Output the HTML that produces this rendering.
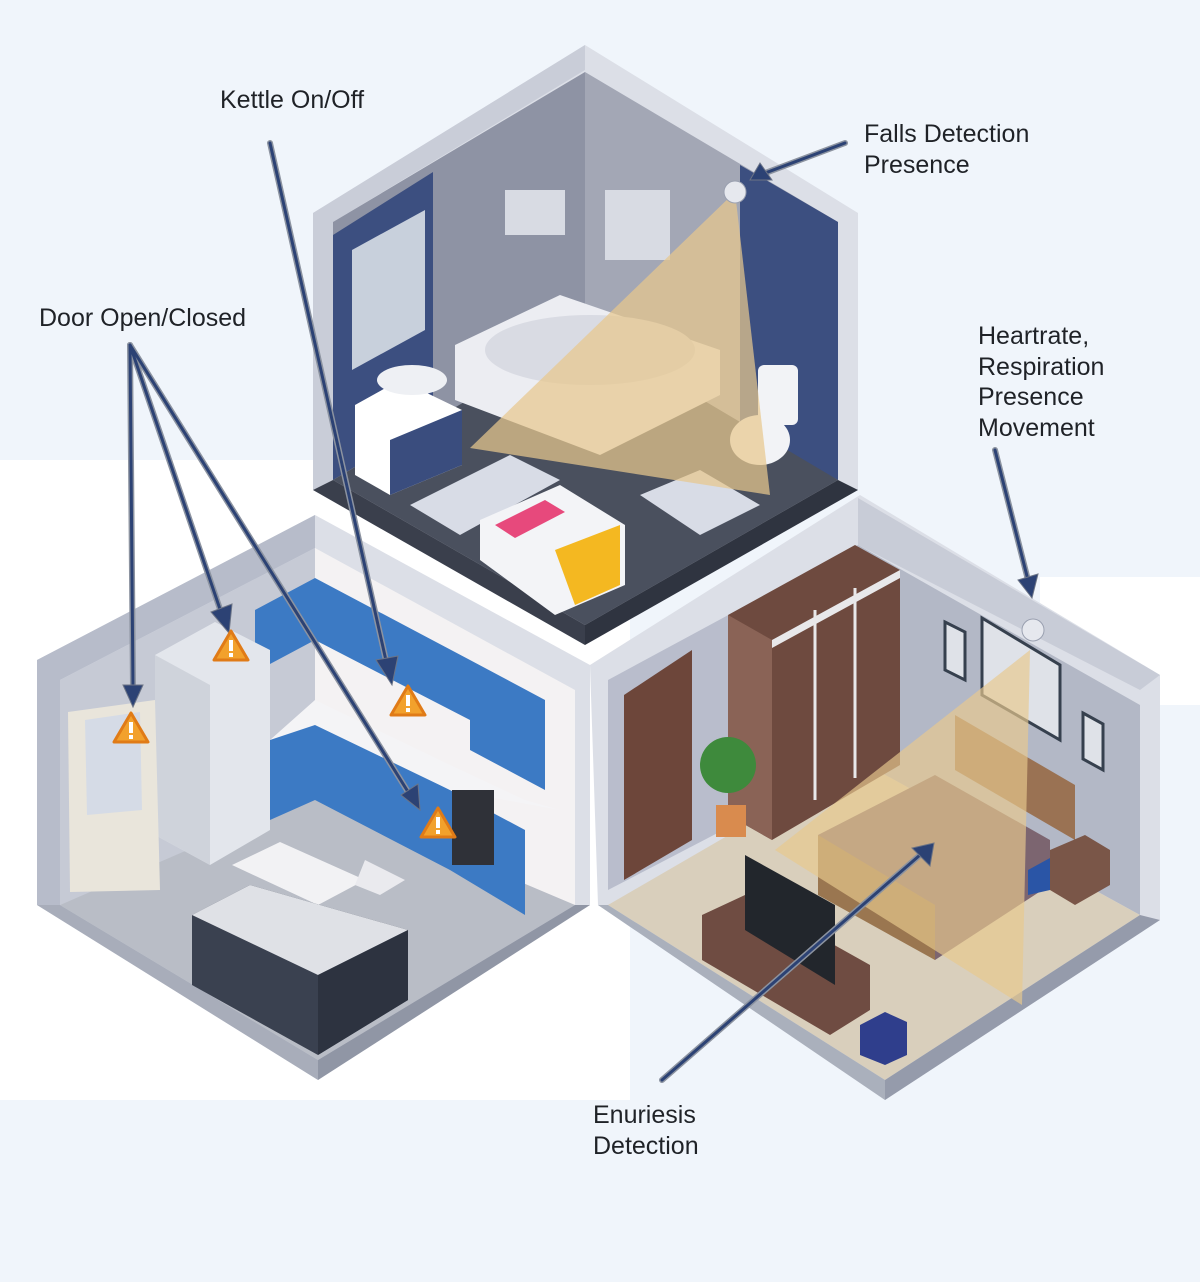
<!DOCTYPE html>
<html><head><meta charset="utf-8"><style>
html,body{margin:0;padding:0;width:1200px;height:1282px;overflow:hidden;background:#f0f5fb}
svg{display:block}
text{font-family:"Liberation Sans",sans-serif;font-size:25px;fill:#1f2227}
</style></head><body>
<svg width="1200" height="1282" viewBox="0 0 1200 1282" xmlns="http://www.w3.org/2000/svg">
<rect width="1200" height="1282" fill="#f0f5fb"/>
<rect x="0" y="460" width="630" height="640" fill="#ffffff"/>
<rect x="1040" y="577" width="160" height="128" fill="#ffffff"/>

<!-- BATHROOM -->
<polygon points="313,213 585,45 858,213 858,490 585,645 313,490" fill="#dcdfe7"/>
<polygon points="313,213 585,45 585,70 333,222 333,480 313,490" fill="#c9cdd8"/>
<polygon points="333,222 585,72 585,330 333,480" fill="#8e93a4"/>
<polygon points="585,72 838,222 838,480 585,330" fill="#a3a7b5"/>
<polygon points="333,235 433,172 433,420 333,480" fill="#3c4f80"/>
<polygon points="740,165 838,222 838,480 740,430" fill="#3c4f80"/>
<polygon points="352,250 425,210 425,330 352,370" fill="#c8d0dc"/>
<polygon points="333,480 585,330 838,480 585,625" fill="#4a505e"/>
<polygon points="313,490 333,480 585,625 585,645" fill="#3a3f4c"/>
<polygon points="585,625 838,480 858,490 585,645" fill="#2f3440"/>
<polygon points="410,505 510,455 560,480 460,535" fill="#d8dce6"/>
<polygon points="640,495 700,470 760,505 700,535" fill="#d8dce6"/>
<polygon points="455,345 560,295 720,350 720,395 600,455 455,400" fill="#ecedf2"/>
<ellipse cx="590" cy="350" rx="105" ry="35" fill="#d9dbe3"/>
<polygon points="355,405 400,380 462,410 462,465 390,495 355,475" fill="#ffffff"/>
<polygon points="390,440 462,410 462,465 390,495" fill="#3a4d7e"/>
<ellipse cx="412" cy="380" rx="35" ry="15" fill="#eef0f4"/>
<rect x="758" y="365" width="40" height="60" rx="6" fill="#f2f3f6"/>
<ellipse cx="760" cy="440" rx="30" ry="25" fill="#f2f3f6"/>
<polygon points="480,520 560,485 625,525 625,585 555,615 480,560" fill="#f3f4f7"/>
<polygon points="555,550 620,525 620,585 575,605" fill="#f4b821"/>
<polygon points="495,525 545,500 565,512 515,538" fill="#e7497c"/>
<rect x="505" y="190" width="60" height="45" fill="#d8dbe3"/>
<rect x="605" y="190" width="65" height="70" fill="#d8dbe3"/>
<polygon points="735,192 470,448 770,495" fill="#e8c88d" opacity="0.72"/>
<circle cx="735" cy="192" r="11" fill="#e6e8ee" stroke="#9aa0b0"/>

<!-- KITCHEN -->
<polygon points="37,660 315,515 590,665 590,905 318,1080 37,905" fill="#dcdfe7"/>
<polygon points="37,660 315,515 315,548 60,680 60,905 37,905" fill="#b7bcca"/>
<polygon points="60,680 315,548 315,800 60,905" fill="#c6cad5"/>
<polygon points="315,548 575,690 575,905 315,800" fill="#f4f2f3"/>
<polygon points="60,905 315,795 575,905 318,1060" fill="#b9bdc6"/>
<polygon points="37,905 60,905 318,1060 318,1080" fill="#a8adba"/>
<polygon points="318,1060 575,905 590,905 318,1080" fill="#9096a5"/>
<polygon points="255,610 315,578 470,660 470,720 315,640 255,672" fill="#3c7ac4"/>
<polygon points="470,660 545,700 545,790 470,750" fill="#3c7ac4"/>
<polygon points="270,740 315,720 450,790 450,870 315,800 270,820" fill="#3c7ac4"/>
<polygon points="450,790 525,830 525,915 450,870" fill="#3c7ac4"/>
<polygon points="270,740 315,700 450,765 525,800 560,810 450,790 315,725" fill="#f4f4f6"/>
<rect x="452" y="790" width="42" height="75" fill="#2f3138"/>
<polygon points="155,655 215,622 270,650 270,830 210,865 155,835" fill="#e3e6ec"/>
<polygon points="155,655 210,685 210,865 155,835" fill="#cfd3db"/>
<polygon points="68,712 155,700 160,890 70,892" fill="#e9e5db"/>
<polygon points="85,720 140,712 142,810 87,815" fill="#d5dbe6"/>
<polygon points="232,865 280,842 365,880 318,905" fill="#f2f2f4"/>
<polygon points="365,860 405,880 380,895 355,885" fill="#eaeaee"/>
<polygon points="192,915 250,885 408,930 408,1000 318,1055 192,985" fill="#3a4150"/>
<polygon points="192,915 250,885 408,930 318,975" fill="#dfe1e6"/>
<polygon points="318,975 408,930 408,1000 318,1055" fill="#2d3340"/>

<!-- BEDROOM -->
<polygon points="590,665 860,495 1160,675 1160,920 885,1100 598,905" fill="#dcdfe7"/>
<polygon points="608,680 858,545 858,760 608,890" fill="#b9bdcc"/>
<polygon points="858,545 1140,705 1140,915 858,760" fill="#b3b8c6"/>
<polygon points="858,498 1160,675 1140,690 858,545" fill="#c8ccd7"/>
<polygon points="608,905 858,760 1140,915 885,1080" fill="#d9cfbc"/>
<polygon points="598,905 608,905 885,1080 885,1100" fill="#aab0bc"/>
<polygon points="885,1080 1140,915 1160,920 885,1100" fill="#959bab"/>
<polygon points="728,615 855,545 900,570 900,765 772,840 728,815" fill="#6e4a3f"/>
<polygon points="728,615 772,640 772,840 728,815" fill="#8a6356"/>
<line x1="815" y1="610" x2="815" y2="800" stroke="#e8e8ea" stroke-width="3"/>
<line x1="855" y1="588" x2="855" y2="778" stroke="#e8e8ea" stroke-width="3"/>
<polygon points="772,640 900,570 900,578 772,648" fill="#e8e8ea"/>
<polygon points="624,695 692,650 692,840 624,880" fill="#6d463a"/>
<circle cx="728" cy="765" r="28" fill="#3e8a3c"/>
<rect x="716" y="805" width="30" height="32" fill="#d98b4e"/>
<polygon points="945,622 965,632 965,680 945,670" fill="#dfe2e8" stroke="#36404e" stroke-width="3"/>
<polygon points="982,618 1060,665 1060,740 982,695" fill="#dfe2e8" stroke="#36404e" stroke-width="3"/>
<polygon points="1083,713 1103,724 1103,770 1083,759" fill="#dfe2e8" stroke="#36404e" stroke-width="3"/>
<polygon points="955,715 1075,785 1075,840 955,770" fill="#9a7253"/>
<polygon points="818,835 935,775 1050,840 1050,885 935,960 818,880" fill="#7c6570"/>
<polygon points="818,835 935,905 935,960 818,895" fill="#9a7650"/>
<polygon points="1028,870 1050,858 1050,890 1028,895" fill="#2a55a6"/>
<polygon points="1050,850 1085,835 1110,850 1110,885 1075,905 1050,890" fill="#7a5648"/>
<polygon points="702,915 745,895 870,965 870,1010 830,1035 702,960" fill="#6f4c42"/>
<polygon points="745,855 835,905 835,985 745,930" fill="#22262c"/>
<polygon points="860,1025 885,1012 907,1022 907,1055 885,1065 860,1055" fill="#2f3e8c"/>
<polygon points="1030,650 775,850 1022,1005" fill="#e8c88d" opacity="0.68"/>
<circle cx="1033" cy="630" r="11" fill="#e6e8ee" stroke="#9aa0b0"/>

<!-- ARROWS -->
<g stroke-linecap="round" fill="none">
<g stroke="#8c93a0" stroke-width="6">
<line x1="845" y1="143" x2="760" y2="175"/>
<line x1="270" y1="143" x2="387" y2="665"/>
<line x1="130" y1="345" x2="133" y2="690"/>
<line x1="130" y1="345" x2="222" y2="615"/>
<line x1="130" y1="345" x2="410" y2="795"/>
<line x1="995" y1="450" x2="1028" y2="580"/>
<line x1="662" y1="1080" x2="920" y2="855"/>
</g>
<g stroke="#2c4274" stroke-width="3">
<line x1="845" y1="143" x2="760" y2="175"/>
<line x1="270" y1="143" x2="387" y2="665"/>
<line x1="130" y1="345" x2="133" y2="690"/>
<line x1="130" y1="345" x2="222" y2="615"/>
<line x1="130" y1="345" x2="410" y2="795"/>
<line x1="995" y1="450" x2="1028" y2="580"/>
<line x1="662" y1="1080" x2="920" y2="855"/>
</g>
</g>
<g fill="#2c4274" stroke="#6b7385" stroke-width="1">
<polygon points="750,180 760,163 772,180"/>
<polygon points="376,660 398,656 392,685"/>
<polygon points="123,685 143,685 133,707"/>
<polygon points="211,612 232,604 229,633"/>
<polygon points="401,795 418,784 420,810"/>
<polygon points="1018,580 1038,574 1032,598"/>
<polygon points="912,848 930,866 934,843"/>
</g>
<g>
<g transform="translate(131,730)"><polygon points="0,-17 17,12 -17,12" fill="#f2a12c" stroke="#e07b17" stroke-width="3" stroke-linejoin="round"/><rect x="-2" y="-8" width="4" height="11" fill="#fff"/><rect x="-2" y="5" width="4" height="4" fill="#fff"/></g>
<g transform="translate(231,648)"><polygon points="0,-17 17,12 -17,12" fill="#f2a12c" stroke="#e07b17" stroke-width="3" stroke-linejoin="round"/><rect x="-2" y="-8" width="4" height="11" fill="#fff"/><rect x="-2" y="5" width="4" height="4" fill="#fff"/></g>
<g transform="translate(408,703)"><polygon points="0,-17 17,12 -17,12" fill="#f2a12c" stroke="#e07b17" stroke-width="3" stroke-linejoin="round"/><rect x="-2" y="-8" width="4" height="11" fill="#fff"/><rect x="-2" y="5" width="4" height="4" fill="#fff"/></g>
<g transform="translate(438,825)"><polygon points="0,-17 17,12 -17,12" fill="#f2a12c" stroke="#e07b17" stroke-width="3" stroke-linejoin="round"/><rect x="-2" y="-8" width="4" height="11" fill="#fff"/><rect x="-2" y="5" width="4" height="4" fill="#fff"/></g>
</g>

<text x="220" y="108">Kettle On/Off</text>
<text x="864" y="142">Falls Detection</text>
<text x="864" y="173">Presence</text>
<text x="39" y="326">Door Open/Closed</text>
<text x="978" y="344">Heartrate,</text>
<text x="978" y="375">Respiration</text>
<text x="978" y="405">Presence</text>
<text x="978" y="436">Movement</text>
<text x="593" y="1123">Enuriesis</text>
<text x="593" y="1154">Detection</text>
</svg>
</body></html>
